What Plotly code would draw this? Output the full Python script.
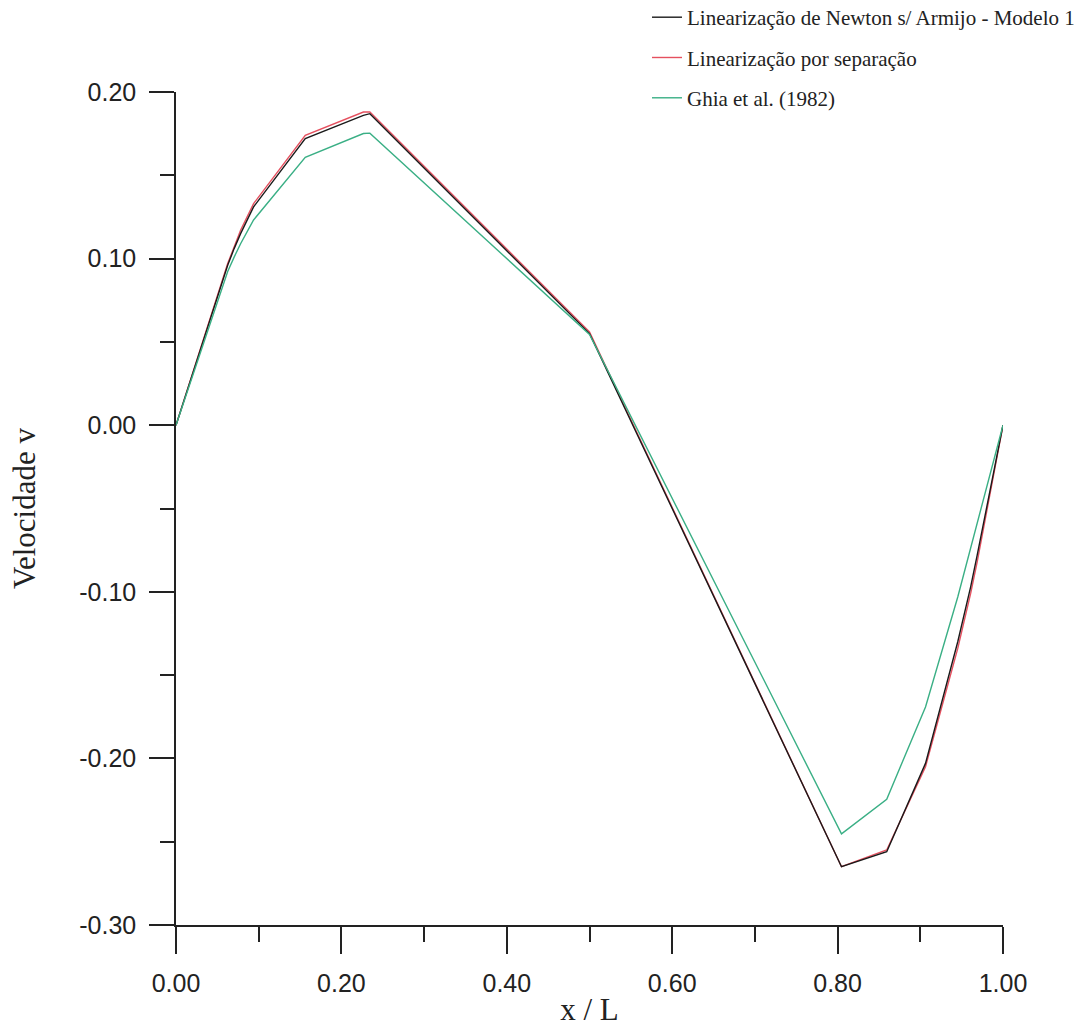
import plotly.graph_objects as go

# x positions (x / L)
x_pts = [0.0, 0.0625, 0.0703, 0.0781, 0.0938, 0.1563, 0.2266, 0.2344, 0.5,
         0.8047, 0.8594, 0.9063, 0.9453, 0.9531, 0.9609, 0.9688, 1.0]

# Linearização de Newton s/ Armijo - Modelo 1
v_newton = [0.0, 0.096, 0.106, 0.115, 0.131, 0.172, 0.186, 0.187, 0.055,
            -0.265, -0.256, -0.203, -0.130, -0.114, -0.097, -0.078, 0.0]

# Linearização por separação
v_separacao = [0.0, 0.097, 0.107, 0.117, 0.133, 0.174, 0.188, 0.188, 0.056,
               -0.265, -0.255, -0.205, -0.134, -0.118, -0.101, -0.082, 0.0]

# Ghia et al. (1982)
v_ghia = [0.0, 0.0923, 0.1009, 0.1089, 0.1232, 0.1608, 0.1751, 0.1753, 0.0545,
          -0.2453, -0.2245, -0.1691, -0.1031, -0.0886, -0.0739, -0.0591, 0.0]

names = ["Linearização de Newton s/ Armijo - Modelo 1",
         "Linearização por separação",
         "Ghia et al. (1982)"]

x_tickvals = [0.0, 0.2, 0.4, 0.6, 0.8, 1.0]
x_ticktext = ["0.00", "0.20", "0.40", "0.60", "0.80", "1.00"]
x_minor = [0.1, 0.3, 0.5, 0.7, 0.9]
y_tickvals = [-0.3, -0.2, -0.1, 0.0, 0.1, 0.2]
y_ticktext = ["-0.30", "-0.20", "-0.10", "0.00", "0.10", "0.20"]
y_minor = [-0.25, -0.15, -0.05, 0.05, 0.15]

AX = "#222222"
fig = go.Figure()
fig.add_trace(go.Scatter(x=x_pts, y=v_separacao, mode="lines", name=names[1],
                         line=dict(color="#e5505f", width=1.4),
                         legendgroup="b", legendrank=2))
fig.add_trace(go.Scatter(x=x_pts, y=v_newton, mode="lines", name=names[0],
                         line=dict(color="#1a1a1a", width=1.4),
                         legendgroup="a", legendrank=1))
fig.add_trace(go.Scatter(x=x_pts, y=v_ghia, mode="lines", name=names[2],
                         line=dict(color="#3aaf85", width=1.4),
                         legendgroup="c", legendrank=3))

tick_font = dict(family="Arial, Liberation Sans, sans-serif", size=25, color=AX)
title_font = dict(family="Times New Roman, Liberation Serif, serif", size=31, color=AX)

fig.update_layout(
    width=1078, height=1027,
    margin=dict(l=176, r=75, t=92, b=102, autoexpand=False),
    paper_bgcolor="white", plot_bgcolor="white",
    showlegend=True,
    legend=dict(xref="paper", yref="paper", x=0.5695, y=1.114,
                xanchor="left", yanchor="top",
                font=dict(family="Times New Roman, Liberation Serif, serif",
                          size=21, color=AX),
                bgcolor="rgba(0,0,0,0)", tracegroupgap=10,
                traceorder="grouped"),
    xaxis=dict(range=[0, 1], showgrid=False, zeroline=False,
               showline=True, linecolor=AX, linewidth=1.5,
               ticks="outside", ticklen=27, tickwidth=1.5, tickcolor=AX,
               tickvals=x_tickvals, ticktext=x_ticktext, tickfont=tick_font,
               ticklabelstandoff=8,
               minor=dict(ticks="outside", ticklen=15, tickwidth=1.5,
                          tickcolor=AX, tickvals=x_minor, showgrid=False),
               title=dict(text="x / L", font=title_font, standoff=22)),
    yaxis=dict(range=[-0.3, 0.2], showgrid=False, zeroline=False,
               showline=True, linecolor=AX, linewidth=1.5,
               ticks="outside", ticklen=25, tickwidth=1.5, tickcolor=AX,
               tickvals=y_tickvals, ticktext=y_ticktext, tickfont=tick_font,
               ticklabelstandoff=8,
               minor=dict(ticks="outside", ticklen=14, tickwidth=1.5,
                          tickcolor=AX, tickvals=y_minor, showgrid=False),
               title=dict(text="Velocidade v", font=title_font, standoff=34)),
)

fig.write_html("out.html")
